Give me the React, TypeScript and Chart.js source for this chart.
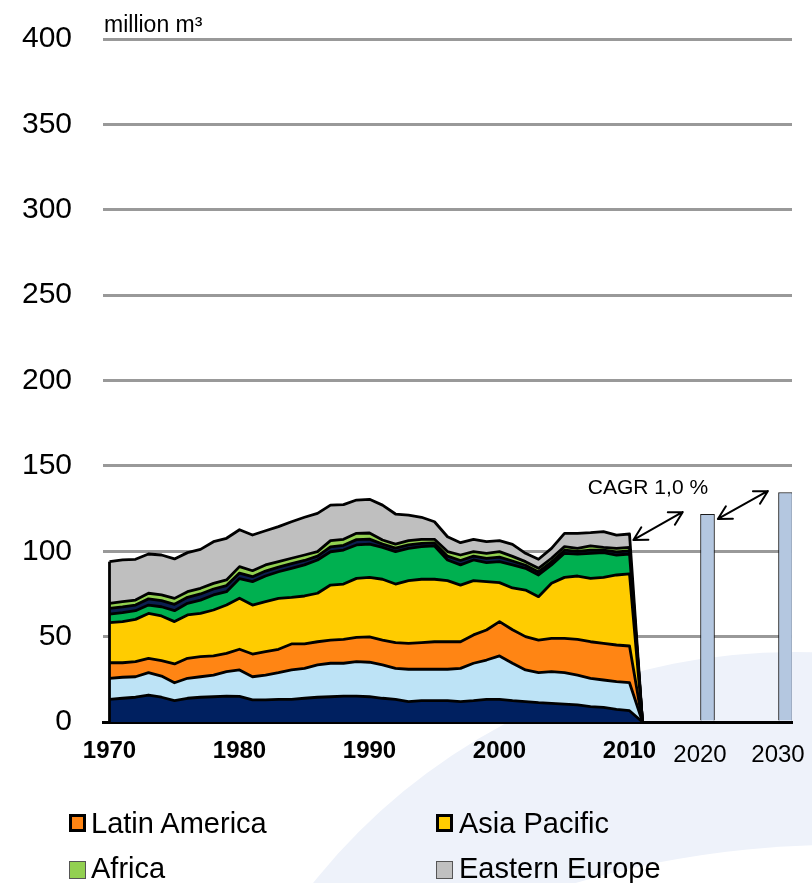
import React, { useEffect, useRef } from 'react';
import { Chart, registerables } from 'chart.js';

Chart.register(...registerables);

// ---------- data ----------
const historyYears = [
  1970, 1971, 1972, 1973, 1974, 1975, 1976, 1977, 1978, 1979,
  1980, 1981, 1982, 1983, 1984, 1985, 1986, 1987, 1988, 1989,
  1990, 1991, 1992, 1993, 1994, 1995, 1996, 1997, 1998, 1999,
  2000, 2001, 2002, 2003, 2004, 2005, 2006, 2007, 2008, 2009,
  2010, 2011,
];

const forecastYears = ['2020', '2030'];
const forecastTotals = [121.6, 134.4];
const axisYearLabels = ['1970', '1980', '1990', '2000', '2010'];

// stacked layers, bottom to top (million m3)
const navySeries = [
  13.3, 13.9, 14.5, 15.8, 14.5, 12.5, 13.9, 14.5, 14.8, 15.2,
  15.0, 12.9, 12.9, 13.3, 13.3, 13.9, 14.5, 14.8, 15.2, 15.2,
  14.8, 13.9, 13.3, 11.9, 12.5, 12.5, 12.5, 11.9, 12.5, 13.3,
  13.3, 12.5, 11.9, 11.3, 10.9, 10.5, 10.0, 9.0, 8.6, 7.4,
  6.6, 0,
];
const lightBlueSeries = [
  12.3, 12.3, 12.0, 13.1, 12.4, 10.5, 11.7, 12.0, 12.7, 14.3,
  15.5, 13.6, 14.6, 15.6, 17.2, 17.5, 18.9, 19.6, 19.2, 20.1,
  20.2, 19.5, 18.1, 19.0, 18.4, 18.4, 18.4, 19.5, 21.9, 23.0,
  25.4, 21.9, 18.6, 17.6, 18.6, 18.4, 17.5, 16.6, 16.0, 16.2,
  16.4, 0,
];
const latinAmerica = [
  9.1, 8.5, 8.8, 8.4, 9.0, 11.0, 11.7, 11.8, 11.2, 10.7,
  12.1, 13.3, 13.7, 13.7, 15.2, 14.3, 13.6, 13.6, 14.0, 14.3,
  14.8, 14.6, 15.1, 15.2, 15.6, 16.1, 16.1, 15.6, 16.6, 17.6,
  20.1, 19.6, 19.5, 19.1, 19.5, 20.1, 20.9, 21.4, 21.5, 21.5,
  21.5, 0,
];
const asiaPacific = [
  23.5, 24.1, 24.8, 26.3, 26.2, 24.8, 25.4, 25.3, 26.9, 28.3,
  29.9, 28.7, 29.3, 29.8, 27.3, 28.1, 28.4, 32.2, 32.4, 34.5,
  34.9, 35.6, 34.3, 36.7, 37.1, 36.6, 35.8, 33.2, 31.8, 28.3,
  22.8, 24.5, 27.3, 25.4, 32.2, 35.7, 37.1, 37.1, 38.6, 41.0,
  42.2, 0,
];
const greenSeries = [
  5.0, 5.2, 5.1, 4.9, 5.4, 6.4, 6.8, 7.8, 8.8, 7.8,
  11.5, 13.7, 15.0, 15.6, 17.0, 18.2, 19.5, 19.5, 19.9, 19.6,
  19.5, 18.7, 19.0, 18.9, 19.1, 19.5, 12.1, 11.8, 12.1, 11.1,
  12.3, 13.5, 12.7, 12.7, 10.8, 14.1, 12.9, 14.7, 14.5, 11.7,
  11.7, 0,
];
const darkBandSeries = [
  3.3, 3.4, 3.3, 3.6, 3.6, 3.7, 3.5, 3.6, 3.5, 3.6,
  3.2, 2.9, 2.9, 2.7, 2.7, 2.6, 2.2, 2.9, 2.8, 3.1,
  2.9, 1.9, 2.0, 2.0, 1.9, 1.8, 2.2, 2.6, 2.2, 2.5,
  2.7, 2.3, 1.8, 1.8, 1.8, 1.8, 1.5, 1.9, 1.4, 1.8,
  1.8, 0,
];
const africa = [
  3.0, 3.1, 2.9, 3.3, 3.3, 3.5, 3.3, 3.3, 3.3, 3.3,
  3.8, 3.5, 3.6, 3.2, 3.2, 3.2, 2.7, 3.6, 3.5, 3.7,
  3.6, 2.4, 2.4, 2.5, 2.4, 2.1, 2.7, 3.2, 2.7, 3.0,
  3.2, 2.7, 2.1, 2.1, 2.1, 2.1, 1.8, 2.4, 1.7, 2.1,
  2.1, 0,
];
const easternEurope = [
  24.4, 24.4, 23.9, 23.0, 23.4, 23.1, 22.9, 22.8, 24.4, 24.4,
  21.6, 20.9, 20.0, 20.5, 21.4, 22.1, 22.4, 20.8, 20.3, 19.5,
  19.7, 20.4, 17.6, 15.0, 12.9, 10.3, 8.7, 7.2, 7.2, 6.8,
  6.4, 7.0, 4.9, 5.3, 5.8, 7.8, 8.8, 7.8, 9.2, 7.8,
  7.8, 0,
];

// ---------- styling ----------
const FONT = "'Liberation Sans', Arial, Helvetica, sans-serif";

const layers = [
  { label: 'Series 1', data: navySeries, color: '#002060' },
  { label: 'Series 2', data: lightBlueSeries, color: '#BDE3F6' },
  { label: 'Latin America', data: latinAmerica, color: '#FF8514' },
  { label: 'Asia Pacific', data: asiaPacific, color: '#FFCC00' },
  { label: 'Series 5', data: greenSeries, color: '#00B050' },
  { label: 'Series 6', data: darkBandSeries, color: '#0B1F4F' },
  { label: 'Africa', data: africa, color: '#92D050' },
  { label: 'Eastern Europe', data: easternEurope, color: '#BFBFBF' },
];

const legendEntries = [
  { label: 'Latin America', color: '#FF8514', heavy: true, col: 0, row: 0 },
  { label: 'Asia Pacific', color: '#FFCC00', heavy: true, col: 1, row: 0 },
  { label: 'Africa', color: '#92D050', heavy: false, col: 0, row: 1 },
  { label: 'Eastern Europe', color: '#C0C0C0', heavy: false, col: 1, row: 1 },
];

// category axis: history years, then spacing slots, then forecast years
const categories: string[] = [
  ...historyYears.map(String),
  '', '', '', '',
  forecastYears[0],
  '', '', '', '', '',
  forecastYears[1],
];

// annotation positions in data units (category index, value)
const cagrLabel = { text: 'CAGR 1,0 %', x: 41.42, y: 137 };
const cagrArrows = [
  { x1: 40.3, y1: 106.6, x2: 44.1, y2: 123.0 },
  { x1: 46.8, y1: 118.9, x2: 50.65, y2: 135.3 },
];

function arrowHead(ctx: CanvasRenderingContext2D, fx: number, fy: number, tx: number, ty: number) {
  const a = Math.atan2(ty - fy, tx - fx);
  const len = 15;
  const spread = 0.5;
  ctx.moveTo(tx - len * Math.cos(a - spread), ty - len * Math.sin(a - spread));
  ctx.lineTo(tx, ty);
  ctx.lineTo(tx - len * Math.cos(a + spread), ty - len * Math.sin(a + spread));
}

const backgroundPlugin = {
  id: 'swooshBackground',
  beforeDraw(chart: any) {
    const { ctx, width, height } = chart;
    ctx.save();
    ctx.fillStyle = '#ffffff';
    ctx.fillRect(0, 0, width, height);
    ctx.beginPath();
    ctx.arc(793, 1266, 614, 0, Math.PI * 2);
    ctx.fillStyle = '#EEF2FA';
    ctx.fill();
    ctx.beginPath();
    ctx.arc(837, 1762, 917, 0, Math.PI * 2);
    ctx.fillStyle = '#ffffff';
    ctx.fill();
    ctx.restore();
  },
};

const annotationPlugin = {
  id: 'annotations',
  afterDatasetsDraw(chart: any) {
    const { ctx, chartArea } = chart;
    const xs = chart.scales.x;
    const ys = chart.scales.y;
    ctx.save();

    // left edge of the stacked area
    const total0 = layers.reduce((s, l) => s + l.data[0], 0);
    ctx.beginPath();
    ctx.strokeStyle = '#000';
    ctx.lineWidth = 2.8;
    ctx.moveTo(xs.getPixelForValue(0), ys.getPixelForValue(0));
    ctx.lineTo(xs.getPixelForValue(0), ys.getPixelForValue(total0));
    ctx.stroke();

    // unit label
    ctx.fillStyle = '#000';
    ctx.font = `23px ${FONT}`;
    ctx.textAlign = 'left';
    ctx.textBaseline = 'alphabetic';
    ctx.fillText('million m³', chartArea.left + 1, chartArea.top - 7.5);

    // CAGR label
    ctx.font = `21px ${FONT}`;
    ctx.textAlign = 'center';
    ctx.textBaseline = 'middle';
    ctx.fillText(cagrLabel.text, xs.getPixelForValue(cagrLabel.x), ys.getPixelForValue(cagrLabel.y));

    // double-headed arrows
    ctx.lineWidth = 2;
    ctx.lineCap = 'round';
    ctx.lineJoin = 'round';
    for (const a of cagrArrows) {
      const x1 = xs.getPixelForValue(a.x1);
      const y1 = ys.getPixelForValue(a.y1);
      const x2 = xs.getPixelForValue(a.x2);
      const y2 = ys.getPixelForValue(a.y2);
      ctx.beginPath();
      ctx.moveTo(x1, y1);
      ctx.lineTo(x2, y2);
      arrowHead(ctx, x1, y1, x2, y2);
      arrowHead(ctx, x2, y2, x1, y1);
      ctx.stroke();
    }

    // forecast year labels under the bars (slightly left of the bar centres, as in the source)
    ctx.font = `24px ${FONT}`;
    ctx.textAlign = 'center';
    ctx.textBaseline = 'middle';
    forecastYears.forEach((label) => {
      const idx = categories.indexOf(label);
      ctx.fillText(label, xs.getPixelForValue(idx) - 7.5, chartArea.bottom + 33);
    });
    ctx.restore();
  },
};

export default function App() {
  const canvasRef = useRef<HTMLCanvasElement>(null);

  useEffect(() => {
    const canvas = canvasRef.current;
    if (!canvas) return;

    const lineDatasets = layers.map((l, i) => ({
      type: 'line' as const,
      label: l.label,
      data: l.data,
      backgroundColor: l.color,
      borderColor: '#000000',
      borderWidth: 2.8,
      borderJoinStyle: 'round' as const,
      pointRadius: 0,
      pointHoverRadius: 0,
      tension: 0,
      fill: i === 0 ? 'origin' : '-1',
    }));

    const barDataset = {
      type: 'bar' as const,
      label: 'Forecast',
      data: forecastYears.map((y, i) => ({ x: y, y: forecastTotals[i] })),
      backgroundColor: '#B4C7E0',
      borderColor: '#1a1a1a',
      borderWidth: 1,
      barThickness: 14,
    };

    const chart = new Chart(canvas, {
      type: 'line',
      data: {
        labels: categories,
        datasets: [...lineDatasets, barDataset] as any,
      },
      options: {
        responsive: false,
        animation: false,
        events: [],
        layout: { padding: { top: 39, right: 20, bottom: 101, left: 0 } },
        plugins: {
          legend: { display: false },
          tooltip: { enabled: false },
        },
        scales: {
          x: {
            type: 'category',
            offset: true,
            z: 1,
            grid: { display: false, drawTicks: false },
            border: { display: true, color: '#000000', width: 3 },
            ticks: {
              autoSkip: false,
              maxRotation: 0,
              minRotation: 0,
              padding: 15,
              color: '#000000',
              font: { family: FONT, size: 24, weight: 'bold' },
              callback: function (this: any, value: any) {
                const l = this.getLabelForValue(value);
                return axisYearLabels.includes(l) ? l : null;
              },
            },
            afterFit: (scale: any) => {
              scale.height = 60;
              scale.paddingLeft = 0;
              scale.paddingRight = 0;
            },
          },
          y: {
            stacked: true,
            min: 0,
            max: 400,
            grid: { color: '#999999', lineWidth: 3, drawTicks: false },
            border: { display: false },
            ticks: {
              stepSize: 50,
              padding: 31,
              color: '#000000',
              font: { family: FONT, size: 30 },
            },
            afterFit: (scale: any) => {
              scale.width = 103;
              scale.paddingTop = 0;
              scale.paddingBottom = 0;
            },
          },
        },
      } as any,
      plugins: [backgroundPlugin, annotationPlugin],
    });

    return () => chart.destroy();
  }, []);

  const colMarkerX = [69, 436];
  const colTextX = [91, 459];
  const rowMarkerY = [814, 861];
  const rowTextY = [808.5, 854.4];

  return (
    <div
      style={{
        position: 'absolute',
        left: 0,
        top: 0,
        width: 812,
        height: 883,
        overflow: 'hidden',
        background: '#ffffff',
      }}
    >
      <canvas
        ref={canvasRef}
        width={812}
        height={883}
        style={{ position: 'absolute', left: 0, top: 0, display: 'block' }}
      />
      {legendEntries.map((e) => (
        <React.Fragment key={e.label}>
          <div
            style={{
              position: 'absolute',
              left: colMarkerX[e.col],
              top: rowMarkerY[e.row],
              width: 17,
              height: 18,
              boxSizing: 'border-box',
              background: e.color,
              border: e.heavy ? '3px solid #000' : '1px solid #555',
            }}
          />
          <div
            style={{
              position: 'absolute',
              left: colTextX[e.col],
              top: rowTextY[e.row],
              fontFamily: FONT,
              fontSize: 29,
              lineHeight: '29px',
              color: '#000',
              whiteSpace: 'nowrap',
            }}
          >
            {e.label}
          </div>
        </React.Fragment>
      ))}
    </div>
  );
}
